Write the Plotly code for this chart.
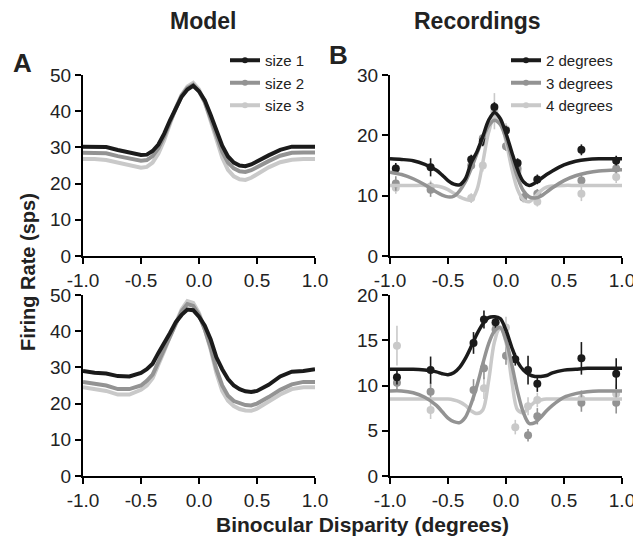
import plotly.graph_objects as go

# ---------------- data ----------------
MODEL_X = [-1.0, -0.9, -0.8, -0.7, -0.6, -0.5, -0.45, -0.4, -0.35, -0.3, -0.25, -0.2, -0.15, -0.1, -0.05,
           0.0, 0.05, 0.1, 0.15, 0.2, 0.25, 0.3, 0.35, 0.4, 0.45, 0.5, 0.6, 0.7, 0.8, 0.9, 1.0]

MODEL_TOP_SIZE1 = [30.2, 30.2, 30.1, 29.3, 28.5, 27.9, 28.0, 29.0, 30.8, 33.8, 37.5, 41.0, 44.0, 46.0, 47.0,
                   45.5, 43.0, 39.0, 34.5, 30.5, 27.5, 25.8, 25.0, 24.8, 25.3, 26.2, 27.8, 29.3, 30.2, 30.2, 30.2]
MODEL_TOP_SIZE2 = [28.5, 28.5, 28.4, 27.6, 26.9, 26.3, 26.5, 27.6, 29.8, 33.0, 37.0, 41.0, 44.3, 46.4, 47.3,
                   45.5, 42.5, 38.0, 33.0, 28.8, 25.8, 24.2, 23.4, 23.2, 23.7, 24.6, 26.2, 27.7, 28.5, 28.6, 28.6]
MODEL_TOP_SIZE3 = [26.8, 26.8, 26.5, 25.8, 25.0, 24.4, 24.6, 25.8, 28.3, 32.0, 36.5, 41.0, 44.5, 46.8, 47.8,
                   46.0, 42.5, 37.5, 32.0, 27.2, 23.8, 22.0, 21.2, 21.0, 21.6, 22.6, 24.5, 25.9, 26.6, 26.8, 26.8]

MODEL_BOT_SIZE1 = [29.0, 28.5, 28.3, 27.6, 27.5, 28.5, 29.5, 31.0, 34.0, 36.5, 39.5, 42.5, 44.5, 46.0, 45.8,
                   44.0, 41.5, 37.8, 32.8, 29.5, 26.8, 25.0, 24.0, 23.4, 23.2, 23.5, 25.2, 27.5, 28.8, 29.0, 29.5]
MODEL_BOT_SIZE2 = [26.0, 25.5, 25.0, 24.0, 24.0, 25.0, 26.3, 28.0, 31.5, 35.0, 38.8, 42.5, 45.5, 47.5, 47.0,
                   44.5, 40.5, 35.5, 29.5, 25.0, 22.2, 20.7, 20.0, 19.6, 19.5, 20.0, 21.8, 23.8, 25.3, 26.0, 26.0]
MODEL_BOT_SIZE3 = [24.5, 24.0, 23.5, 22.5, 22.5, 23.8, 25.0, 27.0, 30.5, 34.5, 38.5, 42.5, 46.0, 48.3, 47.8,
                   45.0, 40.5, 35.0, 28.5, 23.5, 20.8, 19.3, 18.5, 18.1, 18.0, 18.6, 20.5, 22.5, 24.0, 24.5, 24.5]

FIT_X = [-1.0, -0.9, -0.8, -0.7, -0.6, -0.55, -0.5, -0.45, -0.4, -0.35, -0.3, -0.25, -0.2, -0.15, -0.1, -0.05,
         0.0, 0.05, 0.1, 0.15, 0.2, 0.25, 0.3, 0.35, 0.4, 0.5, 0.6, 0.7, 0.8, 0.9, 1.0]

FIT_TOP_2DEG = [16.1, 16.0, 15.8, 15.2, 14.2, 13.4, 12.5, 11.9, 11.8, 12.8, 15.5, 17.3, 19.8, 22.5, 23.8, 22.8,
                20.3, 17.2, 14.3, 12.3, 11.7, 12.1, 12.8, 13.5, 14.1, 15.1, 15.7, 16.0, 16.1, 16.1, 16.1]
FIT_TOP_3DEG = [13.9, 13.5, 12.8, 11.8, 10.6, 10.1, 9.8, 9.9, 10.8, 12.3, 14.5, 17.0, 19.5, 21.6, 22.5, 21.8,
                19.5, 16.2, 13.0, 10.8, 9.8, 9.6, 9.9, 10.6, 11.3, 12.5, 13.3, 13.8, 14.1, 14.2, 14.3]
FIT_TOP_4DEG = [11.7, 11.7, 11.7, 11.7, 11.6, 11.4, 11.0, 10.4, 9.8, 9.4, 9.3, 11.0, 15.5, 20.5, 23.0, 22.5,
                19.0, 14.5, 11.0, 9.3, 9.0, 9.8, 10.8, 11.4, 11.6, 11.7, 11.7, 11.7, 11.7, 11.7, 11.7]

FIT_BOT_2DEG = [11.8, 11.8, 11.8, 11.7, 11.5, 11.3, 11.2, 11.4, 12.0, 13.0, 14.3, 15.7, 16.8, 17.5, 17.6, 17.4,
                16.1, 14.2, 12.6, 11.7, 11.2, 11.0, 11.0, 11.1, 11.4, 11.7, 11.8, 11.9, 11.9, 11.9, 11.9]
FIT_BOT_3DEG = [9.4, 9.4, 9.2, 8.7, 7.8, 7.1, 6.4, 6.0, 5.9, 6.5, 8.0, 10.0, 12.4, 14.6, 16.0, 16.4,
                15.0, 12.3, 9.3, 7.0, 5.8, 5.9, 6.5, 7.2, 7.8, 8.7, 9.1, 9.3, 9.4, 9.4, 9.4]
FIT_BOT_4DEG = [8.5, 8.5, 8.5, 8.5, 8.5, 8.5, 8.5, 8.4, 8.2, 7.8, 7.2, 6.9, 7.3, 10.5, 14.8, 16.5,
                14.8, 10.5, 7.3, 7.0, 7.6, 8.2, 8.4, 8.5, 8.5, 8.5, 8.5, 8.5, 8.5, 8.5, 8.5]

PTS_TOP_2DEG_X = [-0.95, -0.65, -0.3, -0.2, -0.1, 0.0, 0.1, 0.27, 0.65, 0.95]
PTS_TOP_2DEG_Y = [14.5, 14.7, 16.0, 19.0, 24.7, 20.8, 15.4, 12.7, 17.6, 15.8]
PTS_TOP_2DEG_E = [0.9, 1.5, 0.8, 0.8, 0.8, 0.8, 0.8, 0.8, 0.9, 0.8]
PTS_TOP_3DEG_X = [-0.95, -0.65, -0.3, -0.2, -0.1, 0.0, 0.1, 0.15, 0.27, 0.65, 0.95]
PTS_TOP_3DEG_Y = [12.0, 11.0, 15.0, 19.5, 23.0, 18.2, 14.5, 9.7, 10.3, 12.5, 14.5]
PTS_TOP_3DEG_E = [1.2, 1.2, 0.8, 0.8, 0.8, 0.8, 0.8, 0.8, 0.8, 0.9, 0.8]
PTS_TOP_4DEG_X = [-0.95, -0.65, -0.3, -0.2, -0.1, 0.0, 0.1, 0.27, 0.65, 0.95]
PTS_TOP_4DEG_Y = [11.3, 11.5, 9.6, 15.0, 24.0, 21.0, 14.0, 9.0, 10.3, 13.1]
PTS_TOP_4DEG_E = [1.0, 1.0, 0.8, 1.0, 3.0, 1.0, 1.0, 0.8, 1.2, 1.0]

PTS_BOT_2DEG_X = [-0.94, -0.65, -0.28, -0.19, -0.09, 0.08, 0.19, 0.27, 0.65, 0.95]
PTS_BOT_2DEG_Y = [10.9, 11.7, 14.7, 17.3, 17.0, 12.9, 11.7, 10.2, 13.0, 11.3]
PTS_BOT_2DEG_E = [0.8, 1.5, 1.2, 1.0, 0.7, 0.7, 1.6, 0.9, 1.8, 1.7]
PTS_BOT_3DEG_X = [-0.94, -0.65, -0.28, -0.19, -0.09, 0.0, 0.19, 0.27, 0.65, 0.95]
PTS_BOT_3DEG_Y = [10.3, 9.3, 9.5, 11.9, 16.2, 13.3, 4.5, 6.6, 8.1, 8.1]
PTS_BOT_3DEG_E = [1.0, 1.0, 1.2, 1.2, 1.0, 1.0, 0.7, 0.9, 1.0, 1.2]
PTS_BOT_4DEG_X = [-0.94, -0.65, -0.19, -0.09, 0.0, 0.08, 0.19, 0.27, 0.65, 0.95]
PTS_BOT_4DEG_Y = [14.4, 7.3, 9.7, 16.8, 16.4, 5.4, 7.7, 8.4, 8.5, 9.1]
PTS_BOT_4DEG_E = [2.2, 1.0, 1.2, 1.0, 1.2, 0.8, 1.0, 0.8, 1.0, 1.0]

X_TICKS = [-1.0, -0.5, 0.0, 0.5, 1.0]
X_TICK_TEXT = ["-1.0", "-0.5", "0.0", "0.5", "1.0"]
MODEL_NAMES = ["size 1", "size 2", "size 3"]
REC_NAMES = ["2 degrees", "3 degrees", "4 degrees"]

# ---------------- style ----------------
BLACK = "#1b1b1b"
GRAY = "#939393"
LIGHT = "#c9c9c9"
COLORS = [BLACK, GRAY, LIGHT]
FONT = "Liberation Sans, Arial, sans-serif"
TXT = "#222"

fig = go.Figure()

def add_model(xa, ya, ys, legend):
    for i in [2, 1, 0]:
        fig.add_trace(go.Scatter(x=MODEL_X, y=ys[i], mode="lines", xaxis=xa, yaxis=ya,
                                 line=dict(color=COLORS[i], width=4), showlegend=False,
                                 hoverinfo="skip"))
    if legend:
        for i in range(3):
            fig.add_trace(go.Scatter(x=[None], y=[None], mode="lines+markers", xaxis=xa, yaxis=ya,
                                     name=MODEL_NAMES[i], legend="legend",
                                     line=dict(color=COLORS[i], width=4),
                                     marker=dict(color=COLORS[i], size=6)))

def add_rec(xa, ya, fits, pts, legend):
    for i in [2, 1, 0]:
        px, py, pe = pts[i]
        fig.add_trace(go.Scatter(x=px, y=py, mode="markers", xaxis=xa, yaxis=ya,
                                 marker=dict(color=COLORS[i], size=8),
                                 error_y=dict(type="data", array=pe, color=COLORS[i],
                                              thickness=1.6, width=0),
                                 showlegend=False, hoverinfo="skip"))
    for i in [2, 1, 0]:
        fig.add_trace(go.Scatter(x=FIT_X, y=fits[i], mode="lines", xaxis=xa, yaxis=ya,
                                 line=dict(color=COLORS[i], width=3.5, shape="spline", smoothing=0.9),
                                 showlegend=False, hoverinfo="skip"))
    if legend:
        for i in range(3):
            fig.add_trace(go.Scatter(x=[None], y=[None], mode="lines+markers", xaxis=xa, yaxis=ya,
                                     name=REC_NAMES[i], legend="legend2",
                                     line=dict(color=COLORS[i], width=4),
                                     marker=dict(color=COLORS[i], size=6)))

add_model("x", "y", [MODEL_TOP_SIZE1, MODEL_TOP_SIZE2, MODEL_TOP_SIZE3], True)
add_model("x3", "y3", [MODEL_BOT_SIZE1, MODEL_BOT_SIZE2, MODEL_BOT_SIZE3], False)
add_rec("x2", "y2", [FIT_TOP_2DEG, FIT_TOP_3DEG, FIT_TOP_4DEG],
        [(PTS_TOP_2DEG_X, PTS_TOP_2DEG_Y, PTS_TOP_2DEG_E),
         (PTS_TOP_3DEG_X, PTS_TOP_3DEG_Y, PTS_TOP_3DEG_E),
         (PTS_TOP_4DEG_X, PTS_TOP_4DEG_Y, PTS_TOP_4DEG_E)], True)
add_rec("x4", "y4", [FIT_BOT_2DEG, FIT_BOT_3DEG, FIT_BOT_4DEG],
        [(PTS_BOT_2DEG_X, PTS_BOT_2DEG_Y, PTS_BOT_2DEG_E),
         (PTS_BOT_3DEG_X, PTS_BOT_3DEG_Y, PTS_BOT_3DEG_E),
         (PTS_BOT_4DEG_X, PTS_BOT_4DEG_Y, PTS_BOT_4DEG_E)], False)

# page body adds an 8px margin; size the figure to fill the rest of the 641x545 window
OFF = 8
W, H = 641 - OFF, 545 - OFF

def px_x(x):
    return (x - OFF) / W

def px_y(y):
    return 1 - (y - OFF) / H

LEFT_DOM = [px_x(83), px_x(315)]
RIGHT_DOM = [px_x(390), px_x(622)]
TOP_DOM = [px_y(256), px_y(75)]
BOT_DOM = [px_y(476), px_y(295)]

axis_common = dict(showline=True, linecolor="black", linewidth=2, ticks="outside", ticklen=6,
                   tickwidth=1.5, tickcolor="black", showgrid=False, zeroline=False, automargin=False,
                   tickfont=dict(family=FONT, size=19, color=TXT))

def xaxis(dom, anchor):
    return dict(domain=dom, anchor=anchor, range=[-1, 1], tickvals=X_TICKS, ticktext=X_TICK_TEXT,
                **axis_common)

def yaxis(dom, anchor, top, step):
    return dict(domain=dom, anchor=anchor, range=[0, top], dtick=step, tick0=0, **axis_common)

def label(text, x, y, size, angle=0):
    return dict(text=text, x=px_x(x), y=px_y(y), xref="paper", yref="paper", xanchor="center",
                yanchor="middle", showarrow=False, textangle=angle,
                font=dict(size=size, family=FONT, color=TXT))

legend_style = dict(yanchor="top", xanchor="right", bgcolor="rgba(0,0,0,0)",
                    font=dict(family=FONT, size=15, color=TXT), itemwidth=30, tracegroupgap=0)

fig.update_layout(
    template="none",
    width=W, height=H, margin=dict(l=0, r=0, t=0, b=0, pad=0), autosize=False,
    paper_bgcolor="white", plot_bgcolor="white",
    font=dict(family=FONT, color=TXT),
    xaxis=xaxis(LEFT_DOM, "y"), yaxis=yaxis(TOP_DOM, "x", 50, 10),
    xaxis2=xaxis(RIGHT_DOM, "y2"), yaxis2=yaxis(TOP_DOM, "x2", 30, 10),
    xaxis3=xaxis(LEFT_DOM, "y3"), yaxis3=yaxis(BOT_DOM, "x3", 50, 10),
    xaxis4=xaxis(RIGHT_DOM, "y4"), yaxis4=yaxis(BOT_DOM, "x4", 20, 5),
    legend=dict(x=px_x(310), y=px_y(44), **legend_style),
    legend2=dict(x=px_x(618), y=px_y(44), **legend_style),
    annotations=[
        label("<b>Model</b>", 203, 21, 23),
        label("<b>Recordings</b>", 477, 21, 23),
        label("<b>A</b>", 22, 63, 26),
        label("<b>B</b>", 338, 55, 26),
        label("<b>Firing Rate (sps)</b>", 28, 272, 20, -90),
        label("<b>Binocular Disparity (degrees)</b>", 362, 524, 21),
    ],
)

fig.write_html("out.html")
